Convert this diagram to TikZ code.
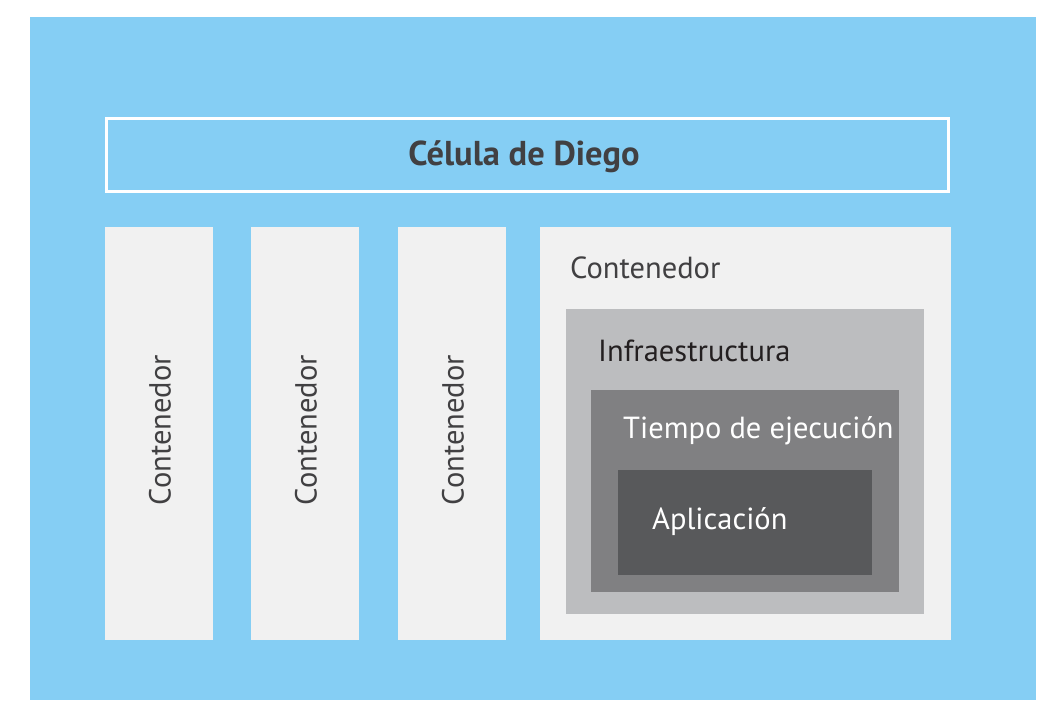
\documentclass[tikz,border=0pt]{standalone}
\usepackage{fontspec}
\setmainfont{PT Sans}
\definecolor{cellblue}{HTML}{85CEF4}
\definecolor{boxgray}{HTML}{F1F1F1}
\definecolor{infragray}{HTML}{BCBDBF}
\definecolor{rungray}{HTML}{808082}
\definecolor{appgray}{HTML}{58595B}
\definecolor{txtdark}{HTML}{414042}
\definecolor{txtblack}{HTML}{231F20}
\tikzset{
  lbl/.style={inner sep=0pt, anchor=base west, font=\fontsize{30.5}{34}\selectfont},
}
\begin{document}
\begin{tikzpicture}[x=1pt,y=-1pt]
\useasboundingbox (0,0) rectangle (1063,718);
\fill[white] (0,0) rectangle (1063,718);
% cell background
\fill[cellblue] (30,17) rectangle (1036,700);
% title
\draw[white, line width=3pt] (106.5,118.5) rectangle (948.5,191.5);
\node[inner sep=0pt, text=txtdark, font=\fontsize{34.5}{38}\selectfont\bfseries] (title) at (524,157) {Célula de Diego};
% three narrow containers
\foreach \x/\n in {105/c1, 251/c2, 398/c3}{
  \fill[boxgray] (\x,227) rectangle (\x+108,640);
  \node[inner sep=0pt, rotate=90, text=txtdark, font=\fontsize{30.5}{34}\selectfont] (\n) at (\x+55,430) {Contenedor};
}
% big container
\fill[boxgray] (540,227) rectangle (951,640);
\node[lbl, text=txtdark] (cbig) at (570,278) {Contenedor};
\fill[infragray] (566,309) rectangle (924,614);
\node[lbl, text=txtblack] (infra) at (598,361) {Infraestructura};
\fill[rungray] (591,390) rectangle (899,592);
\node[lbl, text=white] (run) at (623,438) {Tiempo de ejecución};
\fill[appgray] (618,470) rectangle (872,575);
\node[lbl, text=white] (app) at (652,529) {Aplicación};
\end{tikzpicture}
\end{document}
